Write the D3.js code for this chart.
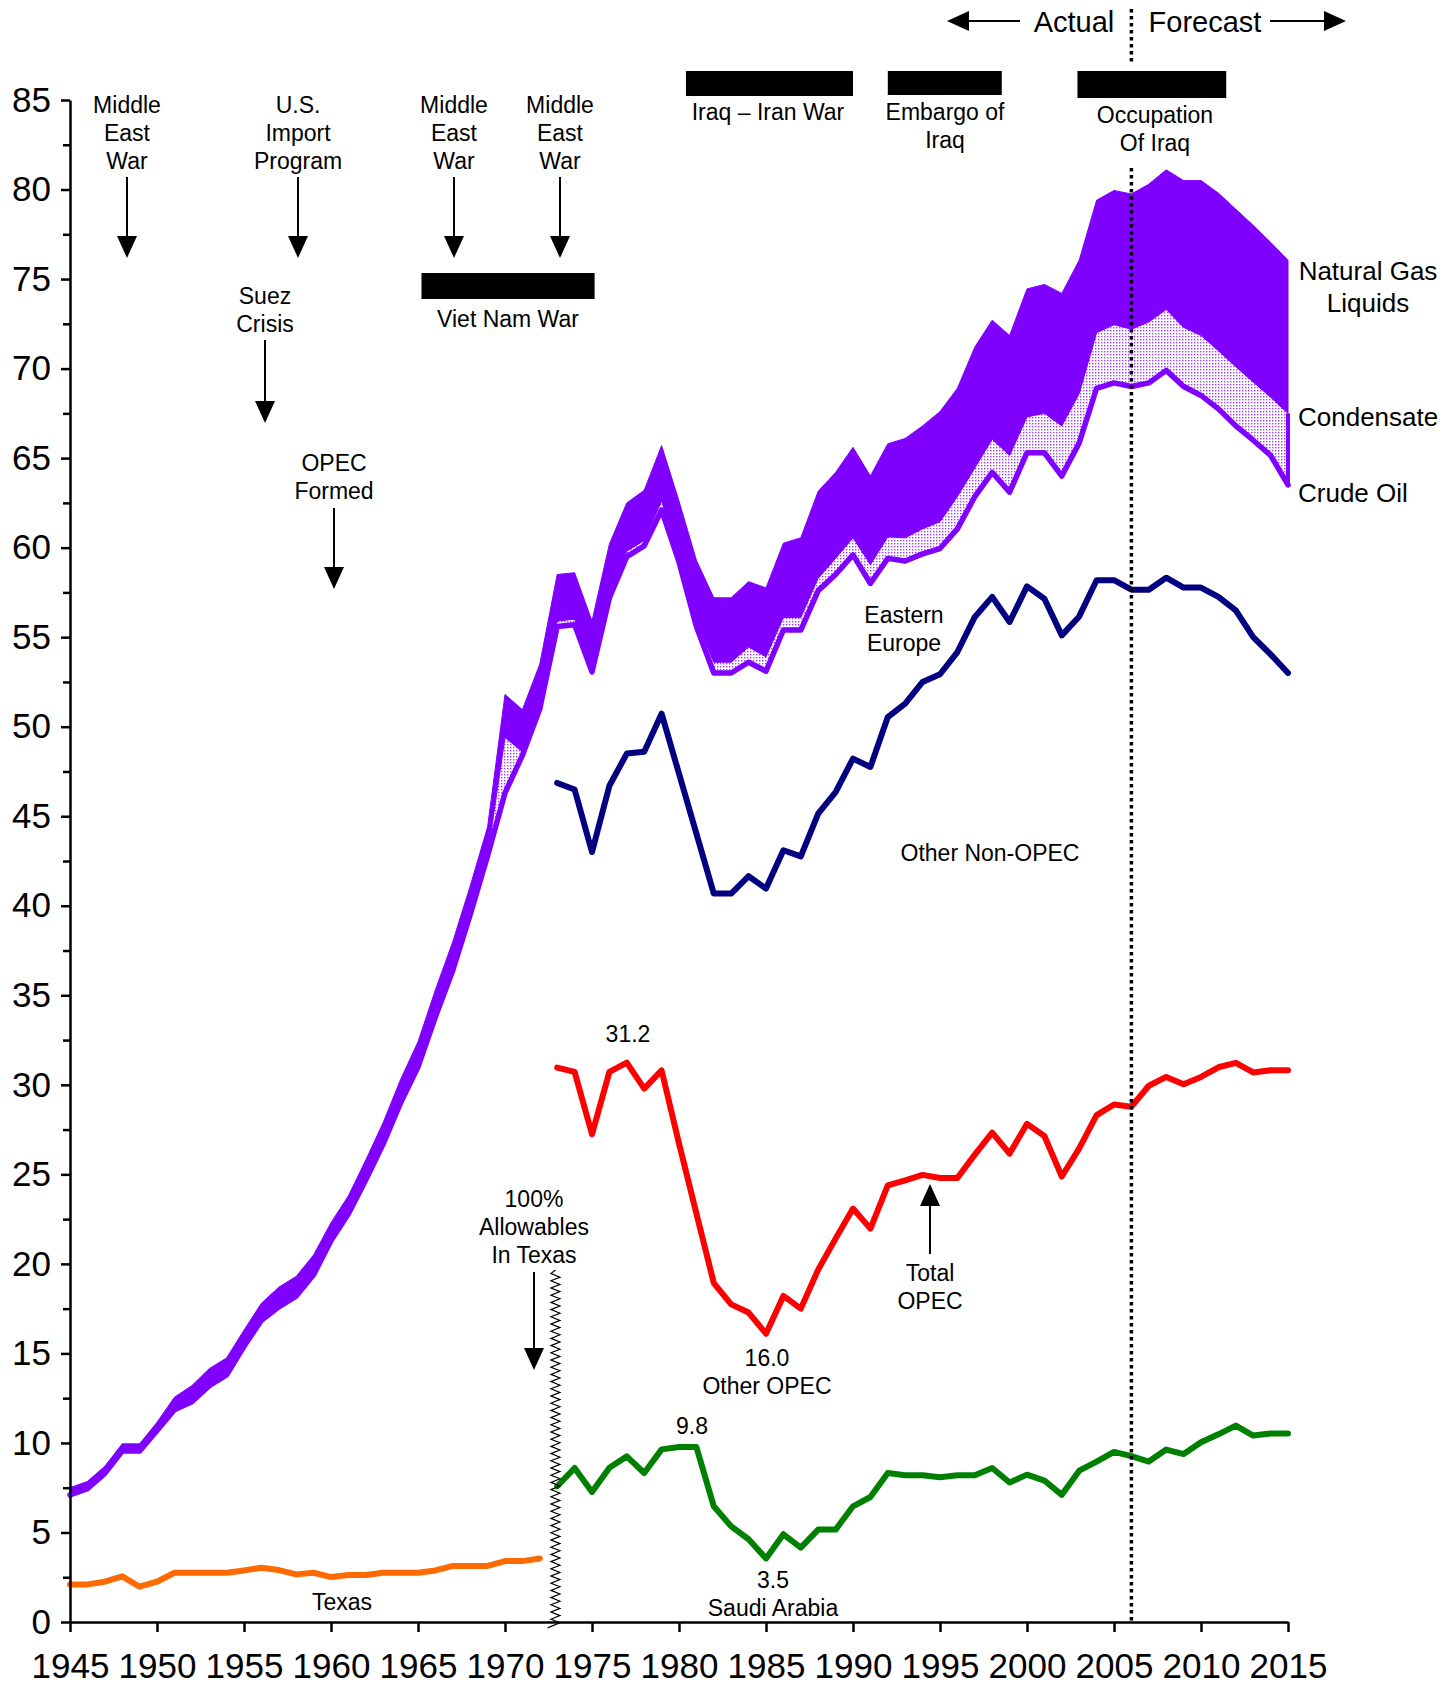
<!DOCTYPE html>
<html>
<head>
<meta charset="utf-8">
<script src="https://cdn.jsdelivr.net/npm/d3@7"></script>
<style>
  html, body { margin: 0; padding: 0; background: #fff; }
  svg { display: block; font-family: "Liberation Sans", Arial, sans-serif; }
</style>
</head>
<body>
<script>
// ---------------- DATA ----------------
const years = d3.range(1945, 2016);           // 1945..2015
const opecYears = d3.range(1973, 2016);       // 1973..2015
const texasYears = d3.range(1945, 1973);      // 1945..1972

// World liquids, million b/d (stack components)
const crudeOil = [
  7.1, 7.45, 8.3, 9.55, 9.55, 10.7, 11.85, 12.3, 13.2, 13.8,
  15.4, 16.85, 17.6, 18.2, 19.4, 21.3, 22.8, 24.7, 26.7, 29.0,
  31.0, 33.8, 36.4, 39.5, 42.8, 46.3, 48.4, 51.0, 55.6, 55.7,
  53.06, 57.2, 59.5, 60.1, 62.1, 59.2, 55.6, 53.0, 53.0, 53.6,
  53.1, 55.4, 55.4, 57.6, 58.5, 59.6, 58.0, 59.4, 59.25, 59.65,
  59.95, 61.05, 62.85, 64.2, 63.1, 65.3, 65.3, 64.0, 65.85, 68.9,
  69.2, 69.0, 69.2, 69.9, 69.0, 68.5, 67.75, 66.8, 66.0, 65.15,
  63.5
];
const condensate = [
  0, 0, 0, 0, 0, 0, 0, 0, 0, 0,
  0, 0, 0, 0, 0, 0, 0, 0, 0, 0,
  0, 0, 0, 0, 0, 3.1, 0.2, 0.2, 0.3, 0.3,
  0.3, 0.3, 0.3, 0.3, 0.5, 0.3, 0.3, 0.6, 0.6, 0.85,
  0.8, 0.7, 0.7, 0.7, 0.9, 0.95, 1.05, 1.2, 1.3, 1.4,
  1.5, 1.8, 1.6, 1.85, 2.05, 2.0, 2.2, 2.8, 2.75, 3.1,
  3.25, 3.2, 3.4, 3.4, 3.3, 3.35, 3.25, 3.3, 3.25, 3.25,
  4.0
];
const naturalGasLiquids = [
  0.4, 0.4, 0.4, 0.4, 0.4, 0.45, 0.7, 0.9, 0.95, 0.95,
  0.9, 0.95, 1.1, 1.1, 1.1, 1.0, 1.0, 1.1, 1.2, 1.3,
  1.4, 1.5, 1.6, 1.6, 1.6, 2.4, 2.35, 2.3, 2.6, 2.6,
  2.54, 2.7, 2.7, 2.8, 3.1, 3.1, 3.4, 3.6, 3.6, 3.65,
  3.85, 4.15, 4.45, 4.85, 4.8, 5.05, 4.95, 5.2, 5.55, 5.75,
  6.15, 6.05, 6.75, 6.65, 6.7, 7.15, 7.2, 7.4, 7.45, 7.4,
  7.5, 7.55, 7.7, 7.8, 8.2, 8.65, 8.8, 8.8, 8.75, 8.65,
  8.55
];
const otherNonOpec = [
  46.86, 46.49, 43.0, 46.7, 48.5, 48.6, 50.73, 47.38, 44.03, 40.68,
  40.68, 41.65, 40.96, 43.1, 42.76, 45.15, 46.35, 48.22, 47.75, 50.54,
  51.29, 52.5, 52.93, 54.17, 56.13, 57.25, 55.85, 57.84, 57.15, 55.1,
  56.16, 58.18, 58.18, 57.65, 57.65, 58.32, 57.77, 57.77, 57.25, 56.5,
  55.0, 54.04, 53.0
];
const totalOpec = [
  30.96, 30.72, 27.24, 30.72, 31.24, 29.79, 30.81, 26.72, 22.81, 18.93,
  17.74, 17.28, 16.1, 18.21, 17.5, 19.68, 21.41, 23.09, 21.97, 24.39,
  24.67, 24.97, 24.8, 24.8, 26.1, 27.33, 26.16, 27.82, 27.14, 24.88,
  26.45, 28.31, 28.9, 28.78, 29.95, 30.44, 30.03, 30.44, 30.98, 31.23,
  30.69, 30.81, 30.81
];
const saudiArabia = [
  7.58, 8.6, 7.26, 8.62, 9.25, 8.32, 9.64, 9.77, 9.77, 6.46,
  5.34, 4.62, 3.55, 4.9, 4.15, 5.16, 5.16, 6.46, 6.98, 8.32,
  8.2, 8.2, 8.08, 8.2, 8.2, 8.6, 7.79, 8.23, 7.9, 7.1,
  8.45, 8.96, 9.5, 9.26, 8.96, 9.63, 9.38, 10.04, 10.48, 10.97,
  10.41, 10.53, 10.53
];
const texas = [
  2.1, 2.1, 2.25, 2.55, 1.97, 2.25, 2.75, 2.75, 2.75, 2.75,
  2.88, 3.03, 2.9, 2.66, 2.75, 2.51, 2.62, 2.62, 2.75, 2.75,
  2.75, 2.88, 3.13, 3.13, 3.13, 3.4, 3.4, 3.55
];

const yTicks = d3.range(0, 86, 5);
const yMinorTicks = d3.range(2.5, 85, 5);
const xTicks = d3.range(1945, 2016, 5);

// ---------------- LAYOUT ----------------
const W = 1456, H = 1687;
const x = d3.scaleLinear().domain([1945, 2015]).range([70, 1288]);
const y = d3.scaleLinear().domain([0, 85]).range([1622, 100]);

const PURPLE = "#8000ff", NAVY = "#000080", RED = "#ff0000", GREEN = "#008000", ORANGE = "#ff6a00";
const FONT = 23;

const svg = d3.select("body").append("svg").attr("width", W).attr("height", H);

const defs = svg.append("defs");
const pat = defs.append("pattern").attr("id", "dots").attr("patternUnits", "userSpaceOnUse")
  .attr("width", 3).attr("height", 3);
pat.append("rect").attr("width", 3).attr("height", 3).attr("fill", "#fff");
pat.append("rect").attr("x", 0).attr("y", 0).attr("width", 1.4).attr("height", 1.4).attr("fill", PURPLE).attr("opacity", 0.75);

// stacked world liquids
const world = years.map((yr, i) => {
  const c = crudeOil[i], cc = c + condensate[i];
  return { year: yr, crude: c, cond: cc, total: cc + naturalGasLiquids[i] };
});

const g = svg.append("g");

// Condensate (dotted)
g.append("path").datum(world)
  .attr("d", d3.area().x(d => x(d.year)).y0(d => y(d.crude)).y1(d => y(d.cond)))
  .attr("fill", "url(#dots)");
// NGL (solid)
g.append("path").datum(world)
  .attr("d", d3.area().x(d => x(d.year)).y0(d => y(d.cond)).y1(d => y(d.total)))
  .attr("fill", PURPLE).attr("stroke", PURPLE).attr("stroke-width", 1);
// right edge of condensate band
g.append("line")
  .attr("x1", x(2015)).attr("x2", x(2015))
  .attr("y1", y(world[world.length - 1].crude)).attr("y2", y(world[world.length - 1].cond))
  .attr("stroke", PURPLE).attr("stroke-width", 4);
// Crude oil line
g.append("path").datum(world)
  .attr("d", d3.line().x(d => x(d.year)).y(d => y(d.crude)))
  .attr("fill", "none").attr("stroke", PURPLE).attr("stroke-width", 5.5)
  .attr("stroke-linejoin", "round").attr("stroke-linecap", "round");

function seriesLine(xs, vals, color, w) {
  g.append("path").datum(xs.map((yr, i) => [yr, vals[i]]))
    .attr("d", d3.line().x(d => x(d[0])).y(d => y(d[1])))
    .attr("fill", "none").attr("stroke", color).attr("stroke-width", w)
    .attr("stroke-linejoin", "round").attr("stroke-linecap", "round");
}
seriesLine(opecYears, otherNonOpec, NAVY, 6);
seriesLine(opecYears, totalOpec, RED, 6);
seriesLine(opecYears, saudiArabia, GREEN, 6);
seriesLine(texasYears, texas, ORANGE, 6);

// ---------------- AXES ----------------
svg.append("g").attr("transform", `translate(${x(1945)},0)`)
  .call(d3.axisLeft(y).tickValues(yTicks).tickSize(9).tickSizeOuter(0).tickPadding(10));
svg.append("g").attr("transform", `translate(${x(1945)},0)`)
  .call(d3.axisLeft(y).tickValues(yMinorTicks).tickSize(7).tickFormat("").tickSizeOuter(0))
  .call(s => s.select(".domain").remove());
svg.append("g").attr("transform", `translate(0,${y(0)})`)
  .call(d3.axisBottom(x).tickValues(xTicks).tickFormat(d3.format("d")).tickSize(10).tickSizeOuter(0).tickPadding(21));

svg.selectAll(".tick line").attr("stroke", "#000").attr("stroke-width", 2.5);
svg.selectAll(".domain").attr("stroke", "#000").attr("stroke-width", 2.5);
svg.selectAll(".tick text").attr("font-size", 35).attr("fill", "#000")
  .attr("font-family", '"Liberation Sans", Arial, sans-serif');

// ---------------- ANNOTATIONS ----------------
const ann = svg.append("g").attr("fill", "#000");

function text(lines, cx, y0, opts = {}) {
  const size = opts.size || FONT, lh = opts.lh || 28, anchor = opts.anchor || "middle";
  const t = ann.append("text").attr("font-size", size).attr("text-anchor", anchor);
  lines.forEach((l, i) => t.append("tspan").attr("x", cx).attr("y", y0 + i * lh).text(l));
}
function downArrow(cx, y1, tip) {
  ann.append("line").attr("x1", cx).attr("x2", cx).attr("y1", y1).attr("y2", tip - 18)
    .attr("stroke", "#000").attr("stroke-width", 2);
  ann.append("path").attr("d", `M${cx - 10},${tip - 22}L${cx + 10},${tip - 22}L${cx},${tip}Z`);
}
function upArrow(cx, y1, tip) {
  ann.append("line").attr("x1", cx).attr("x2", cx).attr("y1", y1).attr("y2", tip + 18)
    .attr("stroke", "#000").attr("stroke-width", 2);
  ann.append("path").attr("d", `M${cx - 10},${tip + 22}L${cx + 10},${tip + 22}L${cx},${tip}Z`);
}
function bar(y0, y1, top, bottom) {
  ann.append("rect").attr("x", x(y0)).attr("y", top).attr("width", x(y1) - x(y0)).attr("height", bottom - top)
    .attr("fill", "#000");
}

// Event labels with arrows
text(["Middle", "East", "War"], 127, 113);
downArrow(127, 177, 258);
text(["U.S.", "Import", "Program"], 298, 113);
downArrow(298, 177, 258);
text(["Middle", "East", "War"], 454, 113);
downArrow(454, 177, 258);
text(["Middle", "East", "War"], 560, 113);
downArrow(560, 177, 258);
text(["Suez", "Crisis"], 265, 304);
downArrow(265, 340, 423);
text(["OPEC", "Formed"], 334, 471);
downArrow(334, 508, 589);

// War bars
bar(1965.2, 1975.15, 273, 299);
text(["Viet Nam War"], 508, 327);
bar(1980.4, 1990.0, 71, 96);
text(["Iraq \u2013 Iran War"], 768, 120);
bar(1992.0, 1998.55, 71, 95);
text(["Embargo of", "Iraq"], 945, 120);
bar(2002.9, 2011.45, 71, 98);
text(["Occupation", "Of Iraq"], 1155, 123);

// Actual / Forecast
const xf = x(2006);
ann.append("line").attr("x1", xf).attr("x2", xf).attr("y1", 9).attr("y2", 64)
  .attr("stroke", "#000").attr("stroke-width", 3.5).attr("stroke-dasharray", "3.5,3.5");
ann.append("line").attr("x1", xf).attr("x2", xf).attr("y1", 168).attr("y2", y(0))
  .attr("stroke", "#000").attr("stroke-width", 3.5).attr("stroke-dasharray", "3.5,3.5");
text(["Actual"], 1074, 32, { size: 29 });
text(["Forecast"], 1205, 32, { size: 29 });
ann.append("line").attr("x1", 1020).attr("x2", 962).attr("y1", 21).attr("y2", 21).attr("stroke", "#000").attr("stroke-width", 2);
ann.append("path").attr("d", "M947,21L969,11L969,31Z");
ann.append("line").attr("x1", 1270).attr("x2", 1330).attr("y1", 21).attr("y2", 21).attr("stroke", "#000").attr("stroke-width", 2);
ann.append("path").attr("d", "M1346,21L1324,11L1324,31Z");

// Series labels
text(["Natural Gas", "Liquids"], 1368, 280, { size: 26, lh: 32 });
text(["Condensate"], 1298, 426, { size: 26, anchor: "start" });
text(["Crude Oil"], 1298, 502, { size: 26, anchor: "start" });
text(["Eastern", "Europe"], 904, 623);
text(["Other Non-OPEC"], 990, 861);
text(["31.2"], 628, 1042);
text(["100%", "Allowables", "In Texas"], 534, 1207);
downArrow(534, 1272, 1370);
text(["16.0", "Other OPEC"], 767, 1366);
text(["Total", "OPEC"], 930, 1281);
upArrow(930, 1254, 1184);
text(["9.8"], 692, 1434);
text(["3.5", "Saudi Arabia"], 773, 1588);
text(["Texas"], 342, 1610);

// Wavy break line (1973 data break)
const wx = x(1972.9), wTop = 1270, wBot = 1624;
let wd = `M${wx},${wTop}`;
for (let yy = wTop, k = 0; yy < wBot; yy += 3.6, k++) {
  wd += `L${wx + (k % 2 ? 4.5 : -4.5)},${yy + 3.6}`;
}
wd += `L${wx - 8},${wBot + 4}`;
ann.append("path").attr("d", wd).attr("fill", "none").attr("stroke", "#000").attr("stroke-width", 1.2);
</script>
</body>
</html>
